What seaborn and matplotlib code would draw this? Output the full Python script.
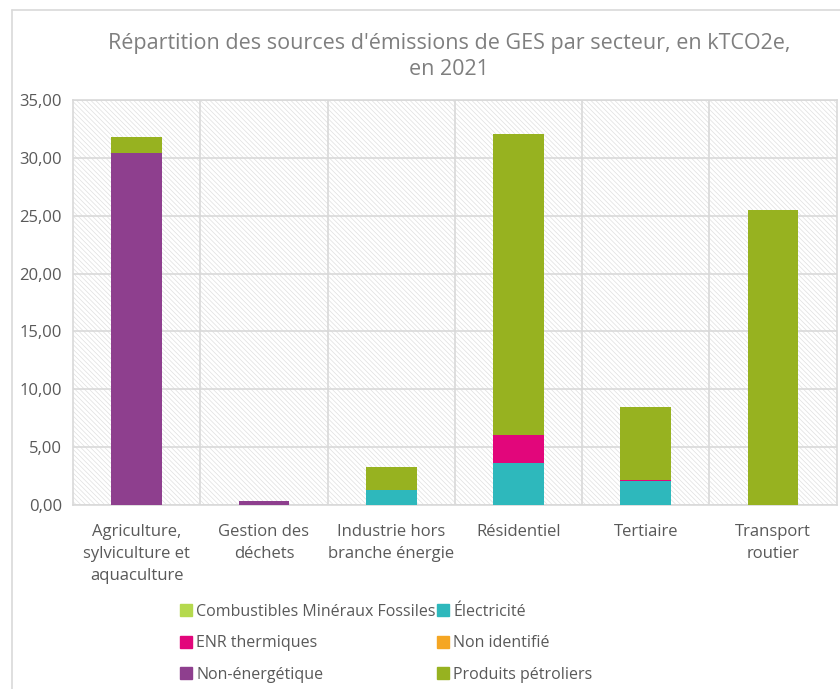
import numpy as np
import matplotlib
matplotlib.use("Agg")
import matplotlib.pyplot as plt
import seaborn as sns
from matplotlib.patches import Rectangle
from matplotlib.lines import Line2D
from matplotlib.ticker import FuncFormatter

# données (kTCO2e)
secteurs = ["Agriculture,\nsylviculture et\naquaculture", "Gestion des\ndéchets",
            "Industrie hors\nbranche énergie", "Résidentiel", "Tertiaire",
            "Transport\nroutier"]
sources = ["Combustibles Minéraux Fossiles", "Électricité", "ENR thermiques",
           "Non identifié", "Non-énergétique", "Produits pétroliers"]
combustibles = [0, 0, 0, 0, 0, 0]
electricite = [0, 0, 1.30, 3.65, 2.05, 0]
enr = [0, 0, 0, 2.40, 0.12, 0]
non_identifie = [0, 0, 0, 0, 0, 0]
non_energetique = [30.40, 0.32, 0, 0, 0, 0]
petroliers = [1.40, 0, 2.00, 26.00, 6.30, 25.50]
couleurs = ["#B5D94E", "#2EB8BC", "#E2067B", "#F5A623", "#8E3F8E", "#97B220"]

sns.set_style("white")
plt.rcParams['font.family'] = ['Open Sans', 'DejaVu Sans']
plt.rcParams['hatch.color'] = '#e0e0e0'
plt.rcParams['hatch.linewidth'] = 0.5

fig = plt.figure(figsize=(8.4, 6.89), dpi=100)
ax = fig.add_axes([0.087, 0.267, 0.909, 0.588])

# fond hachuré
ax.add_patch(Rectangle((0, 0), 1, 1, transform=ax.transAxes, facecolor='white',
                       edgecolor='#e0e0e0', hatch='\\\\\\\\\\\\\\', lw=0, zorder=0))

series = [combustibles, electricite, enr, non_identifie, non_energetique, petroliers]
bas = np.zeros(len(secteurs))
for vals, c in zip(series, couleurs):
    vals = np.array(vals, dtype=float)
    sns.barplot(x=secteurs, y=vals, bottom=bas, color=c, width=0.4,
                saturation=1, linewidth=0, ax=ax, zorder=3)
    bas = bas + vals

ax.set_xlim(-0.5, 5.5)
ax.set_ylim(0, 35)
ax.set_yticks(np.arange(0, 36, 5))
ax.yaxis.set_major_formatter(FuncFormatter(lambda v, p: f"{v:.2f}".replace(".", ",")))
ax.grid(axis='y', color='#d9d9d9', lw=1.2, zorder=1)
for xb in np.arange(0.5, 5.5, 1):
    ax.axvline(xb, color='#d9d9d9', lw=1.2, zorder=1)
for s in ax.spines.values():
    s.set_color('#d9d9d9')
    s.set_linewidth(1.2)
ax.tick_params(axis='both', length=0, labelsize=12, colors='#595959', pad=8)
ax.tick_params(axis='x', pad=14)
for t in ax.get_xticklabels():
    t.set_linespacing(1.5)
ax.set_xlabel("")
ax.set_ylabel("")

fig.suptitle("Répartition des sources d'émissions de GES par secteur, en kTCO2e,\nen 2021",
             x=0.535, y=0.952, fontsize=15.5, color='#7f7f7f', linespacing=1.3)

handles = [Line2D([], [], marker='s', linestyle='', markersize=8,
                  markerfacecolor=c, markeredgecolor=c) for c in couleurs]
ordre = [0, 2, 4, 1, 3, 5]
leg = fig.legend([handles[i] for i in ordre], [sources[i] for i in ordre],
                 ncol=2, loc='upper left', bbox_to_anchor=(0.207, 0.133),
                 frameon=False, fontsize=11.5, handlelength=0.7, handletextpad=0.3,
                 columnspacing=0.1, labelspacing=0.98, borderaxespad=0)
for t in leg.get_texts():
    t.set_color('#595959')

# cadre du graphique
fig.add_artist(Line2D([0.0143, 0.0143], [0, 0.9855], transform=fig.transFigure,
                      color='#d9d9d9', lw=1.2))
fig.add_artist(Line2D([0.0143, 1], [0.9855, 0.9855], transform=fig.transFigure,
                      color='#d9d9d9', lw=1.2))

fig.savefig("out.png", dpi=100)
